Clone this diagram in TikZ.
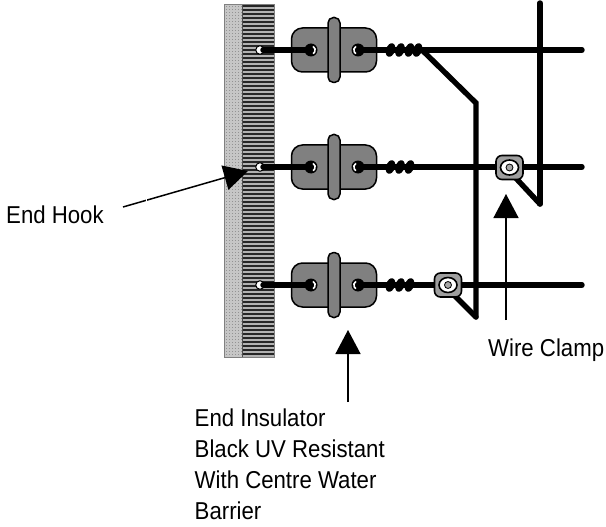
\documentclass[tikz,border=0pt]{standalone}
\usepackage{fontspec}
\setmainfont[FakeStretch=0.91]{Liberation Sans}
\usetikzlibrary{arrows.meta,patterns,shapes.geometric}
\definecolor{stip}{gray}{0.5}
\tikzset{
  x=1pt,y=-1pt,
  wire/.style={line width=5.4pt,line cap=round,line join=miter,draw=black},
  lead/.style={line width=1.5pt,draw=black,-{Triangle[length=24pt,width=25pt]}},
  label/.style={font=\fontsize{24.4}{31}\selectfont,inner sep=0pt,anchor=base west,align=left},
  body/.style={draw=black,line width=1.5pt,fill=stip,rounded corners=11pt,minimum width=85pt,minimum height=44pt,inner sep=0pt},
  flange/.style={draw=black,line width=1.5pt,fill=stip,rounded corners=5.5pt,minimum width=12pt,minimum height=65pt,inner sep=0pt},
  eye/.style={circle,fill=black,minimum size=13pt,inner sep=0pt},
  clampbox/.style={draw=black,line width=1.6pt,fill=gray!75,rounded corners=6pt,minimum width=27pt,minimum height=24pt,inner sep=0pt},
  coilpart/.style={ellipse,fill=black,minimum width=9pt,minimum height=14pt,inner sep=0pt,rotate=-20},
}
\begin{document}
\begin{tikzpicture}
\useasboundingbox (0,0) rectangle (606,527);
% wall
\fill[gray!45] (224,5) rectangle (242,357);
\fill[gray!60] (242,5) rectangle (274,357);
\foreach \s in {6,10,...,356}{\draw[black!85,line width=2pt] (242,\s) -- (274,\s);}
\foreach \s in {6,9,...,356}{\foreach \t in {225.5,228.5,...,241}{\fill[gray!85] (\t,\s) rectangle +(1.3,1.3);}}
\draw[gray,line width=1pt] (224,5) rectangle (274,357);
\draw[black!70,line width=1pt] (242,5) -- (242,357);
% free ends of the lines
\coordinate (t1) at (582,50);
\coordinate (t2) at (582,167);
\coordinate (t3) at (582,285);
\coordinate (bend) at (476,103);
\coordinate (vbot) at (476,317);
\coordinate (wtop) at (540,3);
\coordinate (wbot) at (540,204);
\coordinate (lead1) at (123,207);
\coordinate (tip1) at (248,171);
\coordinate (lead2) at (348,402);
\coordinate (tip2) at (348,330);
\coordinate (lead3) at (506,320);
\coordinate (tip3) at (506,194);
\coordinate (junction) at (422,50);
% insulators
\foreach \n/\y in {1/50,2/167,3/285}{
  \node[circle,draw=black,line width=1pt,fill=white,minimum size=8.5pt,inner sep=0pt] (hook\n) at (260,\y) {};
  \coordinate (hooka\n) at (263,\y);
  \node[body] (body\n) at (334,\y) {};
  \node[flange] (flange\n) at (334,\y) {};
  \node[eye] (eyel\n) at (311,\y) {};
  \node[eye] (eyer\n) at (358,\y) {};
  \draw[wire] (hooka\n) -- (eyel\n.center);
  \draw[wire] (eyer\n.center) -- (t\n);
  \draw[white,line width=1.6pt] (313.1,\y-3.6) arc (-60:60:4.2);
  \draw[white,line width=1.6pt] (355.9,\y-3.6) arc (240:120:4.2);
  \foreach \cx in {390.5,400,409.5}{\node[coilpart] at (\cx,\y) {};}
}
\node[coilpart] at (417.5,50) {};
% tails
\draw[wire,line join=miter] (junction) -- (bend) -- (vbot);
\draw[wire] (wtop) -- (wbot);
\coordinate (ctail2) at (512,174);
\coordinate (ctail3) at (451,292);
\draw[wire] (ctail2) -- (wbot);
\draw[wire] (ctail3) -- (vbot);
% clamps
\foreach \n/\cx/\cy in {2/509.5/167.5,3/448/285}{
  \node[clampbox] (clamp\n) at (\cx,\cy) {};
  \node[ellipse,fill=white,draw=black,line width=1.6pt,minimum width=18pt,minimum height=15pt,inner sep=0pt] at (\cx,\cy) {};
  \node[circle,fill=gray!70,draw=black,line width=0.8pt,minimum size=7pt,inner sep=0pt] at (\cx,\cy) {};
}
% leaders
\draw[lead] (lead1) -- (tip1);
\fill[white] (145.5,199) rectangle (146.7,202);
\draw[lead] (lead2) -- (tip2);
\draw[lead] (lead3) -- (tip3);
% labels
\node[label] (hooklabel) at (6,223) {End Hook};
\node[label] (clamplabel) at (488,356) {Wire Clamp};
\node[label] (inslabel) at (194.5,519) {End Insulator\\Black UV Resistant\\With Centre Water\\Barrier};
\end{tikzpicture}
\end{document}
